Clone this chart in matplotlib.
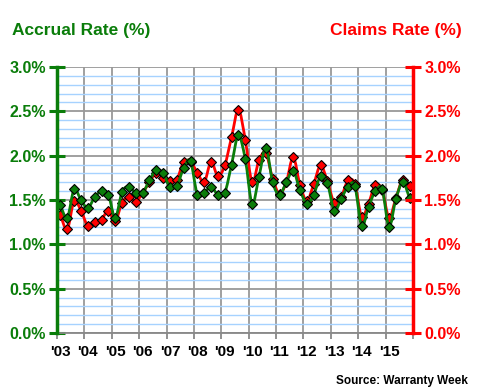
import numpy as np
import matplotlib
matplotlib.use("Agg")
import matplotlib.pyplot as plt
from matplotlib.path import Path
from matplotlib.patches import PathPatch
from matplotlib import ticker

plt.rcParams['font.family'] = ['Liberation Sans', 'DejaVu Sans']

# quarterly values, Q1 2003 .. Q4 2015
accrual_rate = [1.44, 1.30, 1.62, 1.50,
                1.41, 1.53, 1.60, 1.56,
                1.30, 1.59, 1.65, 1.58,
                1.58, 1.72, 1.84, 1.80,
                1.65, 1.66, 1.86, 1.94,
                1.56, 1.58, 1.65, 1.56,
                1.58, 1.90, 2.23, 1.96,
                1.46, 1.76, 2.09, 1.70,
                1.56, 1.70, 1.83, 1.61,
                1.46, 1.56, 1.77, 1.69,
                1.38, 1.51, 1.65, 1.66,
                1.21, 1.42, 1.60, 1.62,
                1.20, 1.51, 1.70, 1.52]
claims_rate = [1.33, 1.17, 1.49, 1.38,
               1.21, 1.25, 1.28, 1.38,
               1.26, 1.47, 1.53, 1.48,
               1.58, 1.70, 1.81, 1.75,
               1.71, 1.73, 1.93, 1.93,
               1.81, 1.70, 1.93, 1.77,
               1.89, 2.21, 2.52, 2.18,
               1.70, 1.95, 2.03, 1.74,
               1.57, 1.70, 1.98, 1.67,
               1.49, 1.68, 1.89, 1.71,
               1.47, 1.53, 1.72, 1.68,
               1.31, 1.46, 1.67, 1.61,
               1.30, 1.52, 1.73, 1.66]
year_labels = ["'03", "'04", "'05", "'06", "'07", "'08", "'09",
               "'10", "'11", "'12", "'13", "'14", "'15"]

GREEN = '#0a7d0a'
RED = '#ff0000'


def smooth_path(xs, ys):
    # excel-like smoothed line as cubic bezier segments
    verts = [(xs[0], ys[0])]
    codes = [Path.MOVETO]
    n = len(xs)
    for i in range(n - 1):
        x0, y0 = (xs[i - 1], ys[i - 1]) if i > 0 else (xs[i], ys[i])
        x1, y1 = xs[i], ys[i]
        x2, y2 = xs[i + 1], ys[i + 1]
        x3, y3 = (xs[i + 2], ys[i + 2]) if i + 2 < n else (x2, y2)
        verts += [(x1 + (x2 - x0) / 6, y1 + (y2 - y0) / 6),
                  (x2 - (x3 - x1) / 6, y2 - (y3 - y1) / 6),
                  (x2, y2)]
        codes += [Path.CURVE4] * 3
    return Path(verts, codes)


x = np.arange(len(accrual_rate)) + 0.5

fig = plt.figure(figsize=(4.8, 3.9), dpi=100)
ax = fig.add_axes([57 / 480, 1 - 333 / 390, 356 / 480, 266 / 390])

ax.set_xlim(0, len(accrual_rate))
ax.set_ylim(0, 3.0)

# grid
ax.yaxis.set_major_locator(ticker.MultipleLocator(0.5))
ax.yaxis.set_minor_locator(ticker.MultipleLocator(0.1))
ax.grid(which='minor', axis='y', color='#a6d2ff', linewidth=1.0, zorder=0)
ax.grid(which='major', axis='y', color='#999999', linewidth=1.3, zorder=0.5)
for k in range(1, len(year_labels)):
    ax.axvline(4 * k, color='#999999', linewidth=1.3, zorder=0.5)

# lines
ax.add_patch(PathPatch(smooth_path(x, claims_rate), fill=False, edgecolor=RED, linewidth=2, zorder=3))
ax.plot(x, claims_rate, linestyle='none', marker='D', markersize=5,
        markerfacecolor=RED, markeredgecolor='black', markeredgewidth=0.8, zorder=4)
ax.add_patch(PathPatch(smooth_path(x, accrual_rate), fill=False, edgecolor=GREEN, linewidth=2, zorder=5))
ax.plot(x, accrual_rate, linestyle='none', marker='D', markersize=5,
        markerfacecolor=GREEN, markeredgecolor='black', markeredgewidth=0.8, zorder=6)

# x axis: ticks at year boundaries, labels at first quarter
ax.set_xticks(np.arange(0, len(accrual_rate) + 1, 4))
ax.set_xticklabels([])
ax.set_xticks(np.arange(len(year_labels)) * 4 + 0.5, minor=True)
ax.set_xticklabels(year_labels, minor=True)
ax.tick_params(axis='x', which='major', length=4, width=1.3, color='#888888')
ax.tick_params(axis='x', which='minor', length=0, pad=9, labelsize=11)
for t in ax.get_xticklabels(minor=True):
    t.set_fontweight('bold')

# left axis
ax.yaxis.set_major_formatter(ticker.FuncFormatter(lambda v, p: '%.1f%%' % v))
ax.tick_params(axis='y', which='major', direction='inout', length=12, width=2.2,
               color=GREEN, labelcolor=GREEN, labelsize=11.5, pad=2)
ax.tick_params(axis='y', which='minor', length=0)
for t in ax.get_yticklabels():
    t.set_fontweight('bold')

ax.spines['top'].set_visible(False)
ax.spines['right'].set_visible(False)
ax.spines['left'].set_color(GREEN)
ax.spines['left'].set_linewidth(2.5)
ax.spines['left'].set_zorder(7)
ax.spines['bottom'].set_color('#888888')
ax.spines['bottom'].set_linewidth(1.3)

# right axis
ax2 = ax.twinx()
ax2.set_ylim(0, 3.0)
ax2.yaxis.set_major_locator(ticker.MultipleLocator(0.5))
ax2.yaxis.set_major_formatter(ticker.FuncFormatter(lambda v, p: '%.1f%%' % v))
ax2.tick_params(axis='y', direction='inout', length=12, width=2.2,
                color=RED, labelcolor=RED, labelsize=11.5, pad=2)
for t in ax2.get_yticklabels():
    t.set_fontweight('bold')
for s in ['top', 'left', 'bottom']:
    ax2.spines[s].set_visible(False)
ax2.spines['right'].set_color(RED)
ax2.spines['right'].set_linewidth(2.5)

fig.text(12 / 480, 1 - 31 / 390, 'Accrual Rate (%)', color=GREEN, fontsize=12.5,
         fontweight='bold', ha='left', va='center')
fig.text(462 / 480, 1 - 31 / 390, 'Claims Rate (%)', color=RED, fontsize=12.5,
         fontweight='bold', ha='right', va='center')
fig.text(468 / 480, 1 - 381 / 390, 'Source: Warranty Week', color='black', fontsize=8.5,
         fontweight='bold', ha='right', va='center')

fig.savefig('out.png', dpi=100, facecolor='white')
